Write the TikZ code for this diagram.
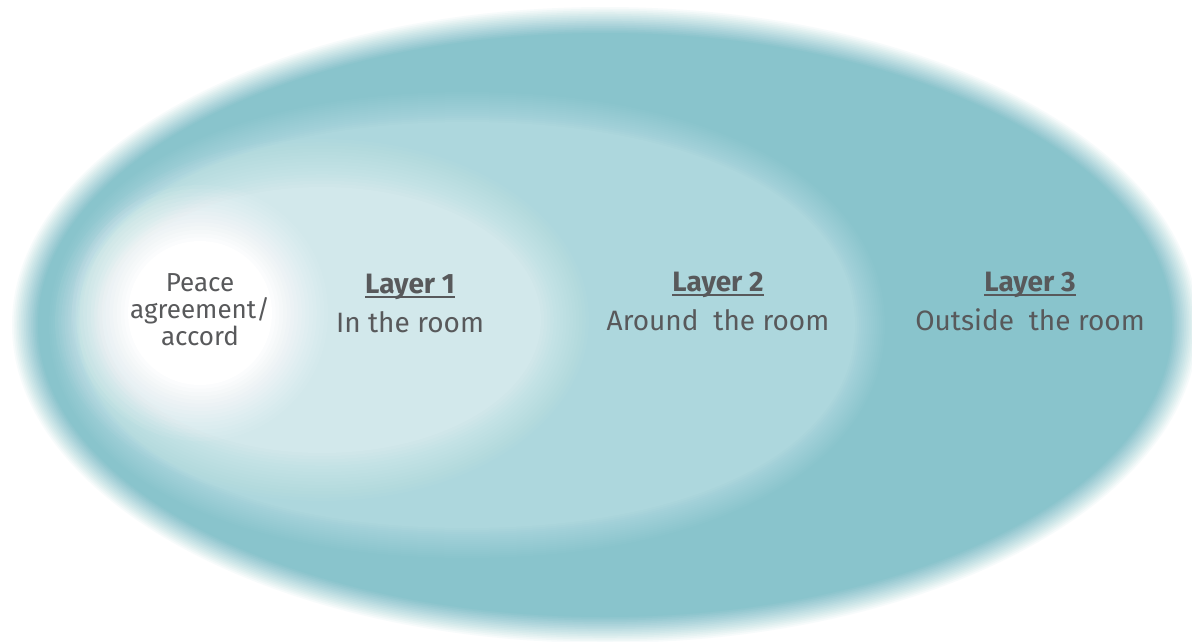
\documentclass[tikz,border=0pt]{standalone}
\usepackage{fontspec}
\setmainfont{Fira Sans}
\definecolor{tealC}{HTML}{89C4CC}
\definecolor{tealB}{HTML}{ADD7DD}
\definecolor{tealA}{HTML}{D2E8EB}
\definecolor{txtgray}{HTML}{58595B}
\newcommand{\softblob}[7]{%
  \foreach \j in {1,...,16}{%
    \pgfmathsetmacro{\off}{#6*(1-2*(\j-1)/15)}%
    \pgfmathsetmacro{\op}{1/(17-\j)}%
    \pgfmathsetmacro{\ax}{#3+\off}%
    \pgfmathsetmacro{\ay}{#4+\off}%
    \fill[#7, fill opacity=\op] (#1+\ax,#2) .. controls (#1+\ax,#2+#5*\ay) and (#1+#5*\ax,#2+\ay) .. (#1,#2+\ay) .. controls (#1-#5*\ax,#2+\ay) and (#1-\ax,#2+#5*\ay) .. (#1-\ax,#2) .. controls (#1-\ax,#2-#5*\ay) and (#1-#5*\ax,#2-\ay) .. (#1,#2-\ay) .. controls (#1+#5*\ax,#2-\ay) and (#1+\ax,#2-#5*\ay) .. (#1+\ax,#2) -- cycle;
  }}
\newcommand{\ulbox}[1]{\setbox0\hbox{#1}\rlap{\rule[-4pt]{\wd0}{1.8pt}}\box0}
\tikzset{
  ttl/.style={text=txtgray, font=\fontsize{28}{30}\selectfont\bfseries, inner sep=0pt},
  sub/.style={text=txtgray, font=\fontsize{28}{30}\selectfont, inner sep=0pt},
  core/.style={text=txtgray, font=\fontsize{26}{27}\selectfont, align=center, inner sep=0pt}
}
\begin{document}
\begin{tikzpicture}[x=1pt,y=-1pt]
\fill[white] (0,0) rectangle (1192,641);
\useasboundingbox (0,0) rectangle (1192,641);
\softblob{605}{325}{580}{305}{0.552}{13}{tealC}
\softblob{467}{325}{403}{218}{0.6}{15}{tealB}
\softblob{322}{320}{243}{157}{0.56}{24}{tealA}
\softblob{200}{313}{100}{100}{0.56}{28}{white}
\node[core] (peace) at (200,310) {Peace\\agreement/\\accord};
\node[ttl] (l1t) at (410,287) {\ulbox{Layer 1}};
\node[sub] (l1s) at (410,322) {In the room};
\node[ttl] (l2t) at (718,285) {\ulbox{Layer 2}};
\node[sub] (l2s) at (718,320) {Around~ the room};
\node[ttl] (l3t) at (1030,285) {\ulbox{Layer 3}};
\node[sub] (l3s) at (1030,320) {Outside~ the room};
\end{tikzpicture}
\end{document}
